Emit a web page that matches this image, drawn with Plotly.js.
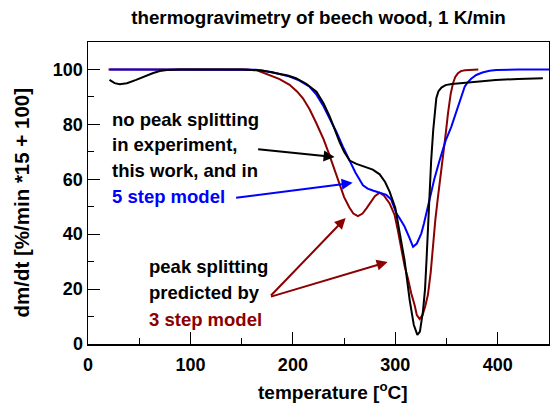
<!DOCTYPE html>
<html>
<head>
<meta charset="utf-8">
<script src="https://cdn.plot.ly/plotly-3.0.1.min.js"></script>
<style>html,body{margin:0;padding:0;background:#fff;}#chart{width:550px;height:405px;}</style>
</head>
<body>
<div id="chart"></div>
<script>
// experiment (black)
const expT = [21, 26, 31, 38, 47, 55, 63, 70, 77, 90, 150, 170, 184, 195, 203, 213, 223, 230, 236, 240.7, 245.6, 250, 255.4, 262, 271.7, 278, 284.7, 290, 294.4, 297, 300, 304, 309, 314, 318, 321.5, 324, 327, 329, 330.5, 332, 333, 335, 337, 338.5, 340, 342, 345, 349, 355, 366, 380, 398, 420, 444];
const expV = [96.2, 95.0, 94.6, 95.0, 96.2, 97.5, 98.6, 99.4, 99.8, 100, 100, 99.6, 98.6, 97.8, 96.8, 94.8, 91.9, 87.6, 82.8, 78.0, 73.5, 70.0, 66.8, 65.6, 64.2, 63.5, 61.8, 59.0, 55.5, 52.5, 49.5, 41.0, 30.5, 16.0, 7.0, 3.3, 4.5, 12.0, 20.0, 31.0, 44.0, 54.0, 67.0, 78.0, 85.5, 89.5, 92.0, 93.4, 94.3, 94.7, 95.1, 95.6, 96.2, 96.5, 96.8];

// 5 step model (blue)
const m5T = [21, 100, 150, 164, 180, 196.8, 206, 216.3, 223, 229.3, 236, 242.4, 248.8, 255.4, 261, 268.4, 273, 278, 281.4, 287.9, 291.2, 296, 301, 304.2, 309, 314, 317.3, 321, 325.4, 328, 331, 333.5, 335, 338, 343.3, 349, 354.7, 360, 364, 367.7, 370, 374, 379, 385, 392, 398.6, 420, 450];
const m5V = [100, 100, 100, 99.9, 99.0, 97.4, 96.0, 93.7, 90.8, 87.0, 82.0, 77.3, 71.9, 67.0, 62.5, 57.8, 56.6, 55.9, 55.5, 54.9, 54.3, 52.6, 47.6, 45.8, 42.8, 38.5, 35.4, 36.6, 40.3, 44.0, 49.0, 52.5, 54.5, 60.0, 67.0, 74.0, 79.2, 85.0, 89.5, 93.7, 95.0, 96.6, 98.0, 98.9, 99.5, 99.8, 100, 100];

// 3 step model (dark red)
const m3T = [20, 100, 155, 165, 177, 187, 196.8, 204, 209.8, 216.3, 222.8, 226, 230, 235, 240, 245.6, 250, 255, 259, 263.5, 268, 272, 275, 280, 284.7, 289, 294.4, 299.3, 302.5, 306, 309, 312.3, 315.5, 318.8, 321, 323.7, 326.5, 329, 331.8, 334.5, 336.7, 339, 341.6, 344, 346.5, 349, 351.4, 354, 356.3, 358.5, 361.1, 364, 368, 375, 381];
const m3V = [100, 100, 100, 99.7, 98.0, 96.5, 94.4, 92.0, 89.5, 85.5, 80.5, 78.0, 74.5, 69.5, 64.0, 58.5, 53.5, 49.8, 47.5, 46.6, 47.5, 49.5, 51.3, 53.8, 55.1, 54.0, 51.2, 47.0, 41.3, 34.0, 28.5, 23.9, 18.5, 14.2, 10.5, 9.1, 10.5, 13.5, 17.9, 26.0, 36.1, 45.0, 53.5, 60.5, 67.0, 76.0, 84.0, 91.0, 95.0, 97.3, 98.6, 99.4, 99.7, 100, 100];

const titleText = 'thermogravimetry of beech wood, 1 K/min';
const xTitle = 'temperature [<sup>o</sup>C]';
const yTitle = 'dm/dt [%/min *15 + 100]';

const RED = '#8b0000', BLUE = '#0000ff', BLACK = '#000000';
const FONT = 'Liberation Sans, Arial, sans-serif';

const traces = [
  {x: m3T, y: m3V, mode: 'lines', line: {color: RED, width: 2}, showlegend: false},
  {x: m5T, y: m5V, mode: 'lines', line: {color: BLUE, width: 2}, showlegend: false},
  {x: expT, y: expV, mode: 'lines', line: {color: BLACK, width: 2}, showlegend: false}
];

const fnt = (size, color) => ({family: FONT, size: size, color: color || BLACK, weight: 'bold'});

// text lines: [text, x, y, color]
const textLines = [
  ['no peak splitting', 21.1, 81.8, BLACK],
  ['in experiment,', 21.1, 72.5, BLACK],
  ['this work, and in', 21.1, 63.2, BLACK],
  ['5 step model', 21.1, 53.9, BLUE],
  ['peak splitting', 57.6, 28.1, BLACK],
  ['predicted by', 57.6, 18.6, BLACK],
  ['3 step model', 57.6, 9.1, RED]
];
const annotations = textLines.map(t => ({
  text: t[0], x: t[1], y: t[2], xref: 'x', yref: 'y', xanchor: 'left', yanchor: 'middle',
  showarrow: false, font: fnt(18.5, t[3])
}));

// axis titles as annotations for exact placement
annotations.push({
  text: xTitle, xref: 'paper', yref: 'paper', x: 0.531, y: -0.155, xanchor: 'center', yanchor: 'middle',
  showarrow: false, font: fnt(19)
});
annotations.push({
  text: yTitle, xref: 'paper', yref: 'paper', x: -0.1444, y: 0.47, xanchor: 'center', yanchor: 'middle',
  textangle: -90, showarrow: false, font: fnt(20.5)
});

// arrows: [tipX, tipY, tailX, tailY, color]
const arrows = [
  [240.7, 68.1, 164.6, 71.0, BLACK],
  [258.3, 58.7, 143.1, 53.2, BLUE],
  [251.5, 45.9, 177.2, 17.1, RED],
  [292.5, 29.9, 177.2, 17.1, RED]
];
arrows.forEach(a => annotations.push({
  x: a[0], y: a[1], ax: a[2], ay: a[3], xref: 'x', yref: 'y', axref: 'x', ayref: 'y',
  text: '', showarrow: true, arrowhead: 2, arrowsize: 1.1, arrowwidth: 2, arrowcolor: a[4]
}));

const axisCommon = {
  showline: true, mirror: true, linecolor: BLACK, linewidth: 1.5,
  ticks: 'inside', ticklen: 12, tickwidth: 1, tickcolor: BLACK,
  showgrid: false, zeroline: false, tickfont: fnt(18)
};

const layout = {
  width: 550, height: 405,
  margin: {l: 88, r: 1, t: 42, b: 61},
  paper_bgcolor: '#fff', plot_bgcolor: '#fff',
  title: {text: titleText, font: fnt(18.8), x: 0.5, xref: 'paper', y: 0.958, yref: 'container', yanchor: 'middle'},
  xaxis: Object.assign({}, axisCommon, {
    range: [0, 450], dtick: 100, tick0: 0, ticklabelstandoff: 4,
    minor: {dtick: 50, ticks: 'inside', ticklen: 6, tickwidth: 1, tickcolor: BLACK, showgrid: false}
  }),
  yaxis: Object.assign({}, axisCommon, {
    range: [0, 110], dtick: 20, tick0: 0,
    minor: {dtick: 10, ticks: 'inside', ticklen: 6, tickwidth: 1, tickcolor: BLACK, showgrid: false}
  }),
  annotations: annotations,
  showlegend: false
};

Plotly.newPlot('chart', traces, layout, {displayModeBar: false, staticPlot: true});
</script>
</body>
</html>
